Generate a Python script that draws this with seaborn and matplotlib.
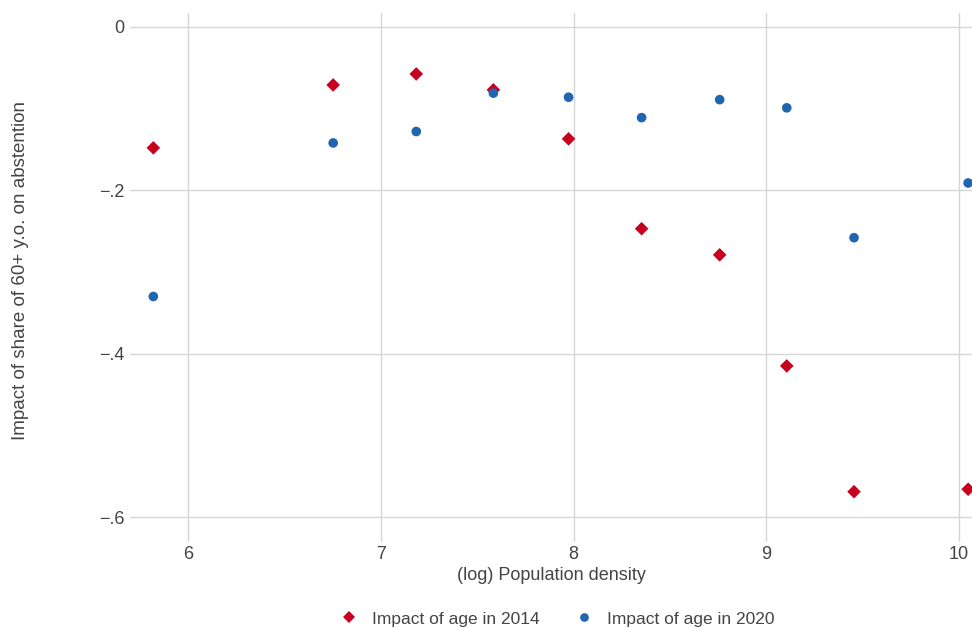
import pandas as pd
import seaborn as sns
import matplotlib.pyplot as plt
from matplotlib.ticker import FuncFormatter

# (log) population density bins and estimated age effects
density = [5.82, 6.753, 7.184, 7.584, 7.974, 8.353, 8.758, 9.106, 9.455, 10.047]
impact_2014 = [-0.148, -0.071, -0.0575, -0.077, -0.137, -0.247, -0.279, -0.415, -0.569, -0.566]
impact_2020 = [-0.330, -0.142, -0.128, -0.081, -0.086, -0.111, -0.089, -0.099, -0.258, -0.191]

series_names = ['Impact of age in 2014', 'Impact of age in 2020']
x_ticks = [6, 7, 8, 9, 10]
y_ticks = [0, -0.2, -0.4, -0.6]

df = pd.DataFrame({
    'density': density * 2,
    'impact': impact_2014 + impact_2020,
    'series': [series_names[0]] * len(density) + [series_names[1]] * len(density),
})

sns.set_style('white')
plt.rcParams['font.family'] = ['Liberation Sans', 'DejaVu Sans']

fig = plt.figure(figsize=(9.72, 6.28), dpi=100)
ax = fig.add_axes([130 / 972, 1 - 542 / 628, (972 - 130) / 972, (542 - 13) / 628])

sns.scatterplot(data=df, x='density', y='impact', hue='series', style='series',
                palette={series_names[0]: '#c8001e', series_names[1]: '#1f65b0'},
                markers={series_names[0]: 'D', series_names[1]: 'o'},
                s=48, linewidth=0, ax=ax, zorder=3)

ax.set_xlim(5.699, 10.067)
ax.set_ylim(-0.6306, 0.0171)
ax.set_xticks(x_ticks)
ax.set_yticks(y_ticks)

def fmt_y(v, pos):
    if abs(v) < 1e-9:
        return '0'
    s = f'{v:.1f}'.replace('0.', '.')
    return s.replace('-', '\u2212')

ax.yaxis.set_major_formatter(FuncFormatter(fmt_y))
ax.grid(True, color='#d6d6d6', linewidth=1.0)
for sp in ax.spines.values():
    sp.set_visible(False)
ax.tick_params(axis='both', length=0, labelsize=13, labelcolor='#444444')
ax.tick_params(axis='y', pad=4)
ax.tick_params(axis='x', pad=3)

ax.set_xlabel('(log) Population density', fontsize=13, color='#444444', labelpad=3)
ax.set_ylabel('Impact of share of 60+ y.o. on abstention', fontsize=13.5, color='#444444')
ax.yaxis.set_label_coords(-101 / 842, 0.513)

handles, labels = ax.get_legend_handles_labels()
ax.get_legend().remove()
leg = fig.legend(handles, labels, loc='center', bbox_to_anchor=(553 / 972, 1 - 619 / 628), ncol=2,
                 frameon=False, fontsize=12.5, handletextpad=0.3, columnspacing=1.6,
                 markerscale=0.9)
for t in leg.get_texts():
    t.set_color('#444444')

fig.savefig('out.png', dpi=100)
